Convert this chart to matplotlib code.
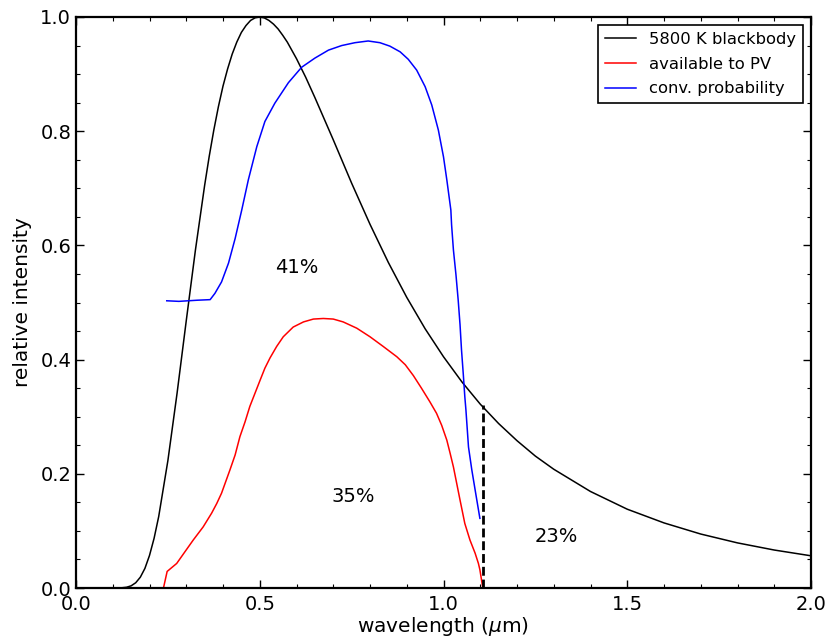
import numpy as np
import matplotlib
matplotlib.use('Agg')
import matplotlib.pyplot as plt
from matplotlib.ticker import MultipleLocator

# 5800 K blackbody, normalised to its peak
bb_wl = [0.10, 0.125, 0.1375, 0.15, 0.1625, 0.175, 0.1875, 0.20, 0.2125, 0.225, 0.25, 0.275,
         0.30, 0.325, 0.35, 0.3625, 0.375, 0.3875, 0.40, 0.4125, 0.425, 0.4375, 0.45,
         0.4625, 0.475, 0.4875, 0.50, 0.5125, 0.525, 0.5375, 0.55, 0.5625, 0.575, 0.60,
         0.625, 0.65, 0.675, 0.70, 0.725, 0.75, 0.80, 0.85, 0.90, 0.95, 1.00, 1.05, 1.10,
         1.15, 1.20, 1.25, 1.30, 1.40, 1.50, 1.60, 1.70, 1.80, 1.90, 2.00]
bb_val = [0.0, 0.0004, 0.0013, 0.0038, 0.0092, 0.0189, 0.0343, 0.057, 0.0871, 0.125, 0.223, 0.341,
          0.468, 0.592, 0.705, 0.756, 0.802, 0.843, 0.879, 0.909, 0.935, 0.956, 0.973,
          0.985, 0.994, 0.9986, 1.0, 0.9984, 0.994, 0.9875, 0.979, 0.968, 0.956, 0.927,
          0.8945, 0.859, 0.822, 0.785, 0.747, 0.709, 0.637, 0.570, 0.509, 0.454, 0.405, 0.361, 0.322,
          0.288, 0.258, 0.231, 0.208, 0.169, 0.138, 0.114, 0.0945, 0.079, 0.0665, 0.0564]

# available to PV
pv_wl = [0.238, 0.248, 0.274, 0.297, 0.319, 0.346, 0.369, 0.383, 0.396, 0.419, 0.433,
         0.446, 0.460, 0.473, 0.487, 0.501, 0.514, 0.528, 0.546, 0.564, 0.591, 0.619,
         0.646, 0.673, 0.700, 0.727, 0.764, 0.800, 0.836, 0.873, 0.896, 0.918, 0.940, 0.963,
         0.981, 0.995, 1.009, 1.018, 1.027, 1.036, 1.045, 1.058, 1.072, 1.086, 1.095,
         1.099, 1.107]
pv_val = [0.0, 0.029, 0.043, 0.064, 0.084, 0.107, 0.131, 0.148, 0.166, 0.207, 0.233,
          0.265, 0.291, 0.318, 0.341, 0.364, 0.385, 0.403, 0.423, 0.440, 0.457, 0.466,
          0.471, 0.472, 0.471, 0.466, 0.455, 0.440, 0.423, 0.405, 0.391, 0.372, 0.350, 0.326,
          0.306, 0.285, 0.259, 0.236, 0.212, 0.183, 0.154, 0.113, 0.084, 0.061, 0.043,
          0.032, 0.0]

# conversion probability
cp_wl = [0.247, 0.28, 0.33, 0.365, 0.378, 0.396, 0.415, 0.433, 0.451, 0.469, 0.492,
         0.514, 0.541, 0.578, 0.614, 0.650, 0.687, 0.723, 0.759, 0.795, 0.827, 0.854,
         0.882, 0.904, 0.927, 0.950, 0.968, 0.986, 1.000, 1.009, 1.020, 1.022, 1.027,
         1.034, 1.040, 1.045, 1.049, 1.054, 1.058, 1.061, 1.068, 1.077, 1.086, 1.099]
cp_val = [0.503, 0.502, 0.504, 0.505, 0.516, 0.536, 0.569, 0.612, 0.662, 0.715, 0.773,
          0.817, 0.849, 0.885, 0.912, 0.928, 0.942, 0.950, 0.955, 0.958, 0.955, 0.949,
          0.939, 0.926, 0.907, 0.878, 0.846, 0.802, 0.755, 0.715, 0.662, 0.636, 0.592,
          0.548, 0.504, 0.461, 0.417, 0.373, 0.335, 0.312, 0.247, 0.207, 0.172, 0.122]

bandgap_wl = 1.108
bandgap_top = 0.32

labels = ['41%', '35%', '23%']
label_x = [0.601, 0.754, 1.306]
label_y = [0.562, 0.161, 0.091]

plt.rcParams['font.family'] = ['DejaVu Sans']
plt.rcParams['mathtext.fontset'] = 'dejavusans'

fig = plt.figure(figsize=(8.27, 6.39), dpi=100)
ax = fig.add_axes([76/827, 51/639, 735/827, 571/639])

ax.plot(bb_wl, bb_val, 'k-', lw=1.1, label='5800 K blackbody')
ax.plot(pv_wl, pv_val, 'r-', lw=1.1, label='available to PV')
ax.plot(cp_wl, cp_val, 'b-', lw=1.1, label='conv. probability')
ax.plot([bandgap_wl, bandgap_wl], [0, bandgap_top], 'k--', lw=2, dashes=(3.2, 1.4))

for t, x, y in zip(labels, label_x, label_y):
    ax.text(x, y, t, fontsize=14, ha='center', va='center')

ax.set_xlim(0, 2.0)
ax.set_ylim(0, 1.0)
ax.xaxis.set_major_locator(MultipleLocator(0.5))
ax.xaxis.set_minor_locator(MultipleLocator(0.1))
ax.yaxis.set_major_locator(MultipleLocator(0.2))
ax.yaxis.set_minor_locator(MultipleLocator(0.05))
ax.xaxis.set_major_formatter(plt.FormatStrFormatter('%.1f'))
ax.yaxis.set_major_formatter(plt.FormatStrFormatter('%.1f'))
ax.tick_params(which='both', direction='in', top=True, right=True, labelsize=14)
ax.tick_params(which='major', length=6, width=1)
ax.tick_params(which='minor', length=3, width=0.8)
ax.tick_params(axis='x', pad=5)
for s in ax.spines.values():
    s.set_linewidth(1.6)

ax.set_xlabel('wavelength ($\\mu$m)', fontsize=14.5, labelpad=1)
ax.set_ylabel('relative intensity', fontsize=14.5, labelpad=6)

leg = ax.legend(loc='upper right', fontsize=11.8, fancybox=False, framealpha=1,
                borderaxespad=0.5, handlelength=1.9, labelspacing=0.6)
leg.get_frame().set_edgecolor('black')
leg.get_frame().set_linewidth(1.2)

fig.savefig('out.png', dpi=100)
